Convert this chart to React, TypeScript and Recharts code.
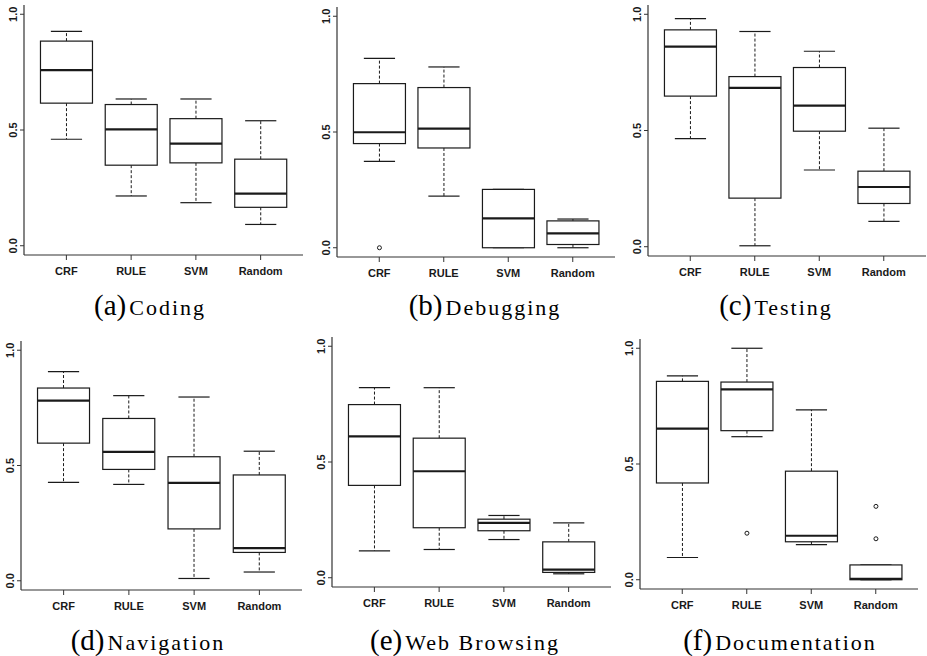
import React from 'react';
import { ComposedChart, Bar, XAxis, YAxis } from 'recharts';

const METHODS = ['CRF', 'RULE', 'SVM', 'Random'];
const Y_TICKS = [0, 0.5, 1];

// [min, q1, median, q3, max] for each method
const CODING = [
  [0.46, 0.616, 0.759, 0.884, 0.926],
  [0.215, 0.348, 0.503, 0.61, 0.634],
  [0.186, 0.358, 0.441, 0.549, 0.634],
  [0.092, 0.166, 0.225, 0.374, 0.54],
];
const CODING_OUT = [[], [], [], []];

const DEBUGGING = [
  [0.373, 0.45, 0.499, 0.709, 0.818],
  [0.223, 0.431, 0.515, 0.692, 0.781],
  [0, 0, 0.127, 0.252, 0.252],
  [0, 0.014, 0.062, 0.116, 0.124],
];
const DEBUGGING_OUT = [[0.0], [], [], []];

const TESTING = [
  [0.465, 0.648, 0.861, 0.933, 0.981],
  [0.004, 0.209, 0.683, 0.732, 0.926],
  [0.33, 0.497, 0.607, 0.771, 0.841],
  [0.109, 0.186, 0.257, 0.325, 0.51],
];
const TESTING_OUT = [[], [], [], []];

const NAVIGATION = [
  [0.427, 0.597, 0.781, 0.836, 0.907],
  [0.418, 0.483, 0.559, 0.704, 0.803],
  [0.01, 0.225, 0.425, 0.538, 0.797],
  [0.038, 0.123, 0.142, 0.459, 0.562],
];
const NAVIGATION_OUT = [[], [], [], []];

const WEB = [
  [0.116, 0.399, 0.611, 0.748, 0.821],
  [0.122, 0.216, 0.46, 0.603, 0.821],
  [0.165, 0.203, 0.237, 0.253, 0.269],
  [0.017, 0.023, 0.035, 0.155, 0.237],
];
const WEB_OUT = [[], [], [], []];

const DOCS = [
  [0.096, 0.418, 0.653, 0.857, 0.881],
  [0.618, 0.644, 0.822, 0.854, 1.0],
  [0.152, 0.164, 0.19, 0.469, 0.734],
  [0, 0, 0.004, 0.064, 0.064],
];
const DOCS_OUT = [[], [0.201], [], [0.317, 0.177]];

const INK = '#1a1a1a';
const FRAME = '#333';

const rows = (stats: number[][], outs: number[][]) =>
  METHODS.map((name, i) => {
    const [min, q1, med, q3, max] = stats[i];
    return { name, min, q1, med, q3, max, out: outs[i] };
  });

// box + whiskers, positions taken from the bar rect the scale gives for [min, max]
function BoxShape(props: any) {
  const { x, y, width, height, payload } = props;
  const top = Math.min(y, y + height);
  const bot = Math.max(y, y + height);
  const { min, max } = payload;
  const py = (v: number) => bot - ((v - min) / (max - min)) * (bot - top);
  const cx = x + width / 2;
  const cap = width * 0.3;
  return (
    <g>
      <line x1={cx} x2={cx} y1={py(payload.q3)} y2={py(max)} stroke={INK} strokeDasharray="3 2" />
      <line x1={cx} x2={cx} y1={py(payload.q1)} y2={py(min)} stroke={INK} strokeDasharray="3 2" />
      <line x1={cx - cap} x2={cx + cap} y1={py(max)} y2={py(max)} stroke={INK} strokeWidth={1.2} />
      <line x1={cx - cap} x2={cx + cap} y1={py(min)} y2={py(min)} stroke={INK} strokeWidth={1.2} />
      <rect x={x} y={py(payload.q3)} width={width} height={py(payload.q1) - py(payload.q3)}
        fill="#fff" stroke={INK} strokeWidth={1.2} />
      <line x1={x} x2={x + width} y1={py(payload.med)} y2={py(payload.med)} stroke={INK} strokeWidth={2.2} />
      {payload.out.map((o: number, k: number) => (
        <circle key={k} cx={cx} cy={py(o)} r={2} fill="none" stroke={INK} strokeWidth={1} />
      ))}
    </g>
  );
}

function YTick(props: any) {
  const { x, y, payload } = props;
  return (
    <text x={x} y={y} transform={`rotate(-90 ${x} ${y})`} textAnchor="middle"
      fontFamily="Liberation Sans, Arial, sans-serif" fontWeight="bold" fontSize={11} fill={INK}>
      {payload.value.toFixed(1)}
    </text>
  );
}

function Panel({ data, frame, label, name, capX, capY }: any) {
  const [L, T, R, B] = frame;
  const w = R - L + 35;
  const h = B - T + 35;
  const tickFont = { fontFamily: 'Liberation Sans, Arial, sans-serif', fontWeight: 'bold', fontSize: 11, fill: INK };
  return (
    <>
      <div style={{ position: 'absolute', left: L - 30, top: T - 5 }}>
        <ComposedChart width={w} height={h} data={data} barCategoryGap="10%"
          margin={{ top: 5, right: 5, bottom: 0, left: 0 }}>
          <XAxis dataKey="name" type="category" height={30} padding={{ left: 10, right: 10 }}
            tickSize={5} tickMargin={7} tick={tickFont}
            axisLine={{ stroke: FRAME, strokeWidth: 1.2 }} tickLine={{ stroke: FRAME }} />
          <XAxis xAxisId="top" dataKey="name" type="category" orientation="top" height={0}
            tick={false} tickLine={false} axisLine={{ stroke: FRAME, strokeWidth: 1.2 }} />
          <YAxis type="number" domain={[-0.04, 1.04]} allowDataOverflow ticks={Y_TICKS} width={30}
            tickSize={4} tickMargin={3} tick={<YTick />}
            axisLine={{ stroke: FRAME, strokeWidth: 1.2 }} tickLine={{ stroke: FRAME }} />
          <YAxis yAxisId="r" type="number" orientation="right" domain={[0, 1]} width={0}
            tick={false} tickLine={false} axisLine={{ stroke: FRAME, strokeWidth: 1.2 }} />
          <Bar dataKey={(d: any) => [d.min, d.max]} shape={<BoxShape />} isAnimationActive={false} />
        </ComposedChart>
      </div>
      <div style={{
        position: 'absolute', left: capX - 150, width: 300, top: capY, textAlign: 'center',
        fontFamily: 'Liberation Serif, serif', color: '#000', whiteSpace: 'nowrap', lineHeight: '30px',
      }}>
        <span style={{ fontSize: 29 }}>({label})</span>
        <span style={{ fontSize: 22, letterSpacing: 2, marginLeft: 3 }}>{name}</span>
      </div>
    </>
  );
}

export default function App() {
  return (
    <div style={{ position: 'absolute', left: 0, top: 0, width: 927, height: 656, background: '#fff', overflow: 'hidden' }}>
      <Panel data={rows(CODING, CODING_OUT)} frame={[24, 5, 303, 255]} label="a" name="Coding" capX={150} capY={290} />
      <Panel data={rows(DEBUGGING, DEBUGGING_OUT)} frame={[337, 7, 615, 257]} label="b" name="Debugging" capX={485} capY={290} />
      <Panel data={rows(TESTING, TESTING_OUT)} frame={[648, 5, 926, 256]} label="c" name="Testing" capX={776} capY={290} />
      <Panel data={rows(NAVIGATION, NAVIGATION_OUT)} frame={[21, 341, 302, 590]} label="d" name="Navigation" capX={148} capY={625} />
      <Panel data={rows(WEB, WEB_OUT)} frame={[332, 337, 611, 587]} label="e" name="Web Browsing" capX={465} capY={625} />
      <Panel data={rows(DOCS, DOCS_OUT)} frame={[640, 339, 918, 589]} label="f" name="Documentation" capX={780} capY={625} />
    </div>
  );
}
